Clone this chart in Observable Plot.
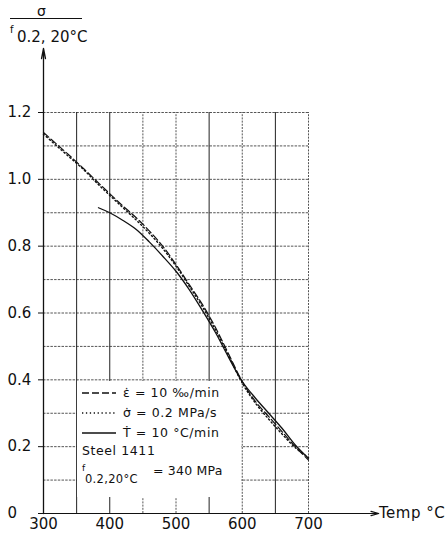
<!DOCTYPE html>
<html><head><meta charset="utf-8">
<script src="https://cdn.jsdelivr.net/npm/d3@7"></script>
<script src="https://cdn.jsdelivr.net/npm/@observablehq/plot@0.6"></script>
<style>
body{margin:0;background:#fff;}
#wrap{position:relative;width:448px;height:540px;font-family:"DejaVu Sans",sans-serif;color:#111;overflow:hidden;}
#wrap svg.plot{position:absolute;left:0;top:0;}
.abs{position:absolute;white-space:nowrap;line-height:16px;}
#legend{position:absolute;left:77px;top:381px;width:164px;height:116px;background:#fff;font-size:12.5px;letter-spacing:0.6px;}
</style></head><body><div id="wrap"></div>
<script>
// ---- data ----
const strainTemps  = [300,320,340,360,380,400,420,440,460,480,500,520,540,560,580,600,620,640,660,680,700];
const strainValues = [1.14,1.105,1.07,1.033,0.995,0.957,0.92,0.885,0.845,0.80,0.745,0.685,0.625,0.555,0.475,0.395,0.335,0.29,0.245,0.20,0.16];
const stressTemps  = [300,320,340,360,380,400,420,440,460,480,500,520,540,560,580,600,620,640,660,680,700];
const stressValues = [1.135,1.10,1.065,1.03,0.99,0.952,0.915,0.878,0.838,0.793,0.74,0.68,0.618,0.548,0.47,0.39,0.33,0.282,0.238,0.197,0.168];
const heatTemps    = [383,400,420,440,460,480,500,520,540,560,580,600,620,640,660,680,700];
const heatValues   = [0.915,0.90,0.877,0.85,0.812,0.77,0.725,0.67,0.607,0.54,0.465,0.395,0.345,0.30,0.255,0.205,0.165];

const xTicks = [300,400,500,600,700];
const yTicks = [0,0.2,0.4,0.6,0.8,1.0,1.2];
const hGrid = [0.1,0.2,0.3,0.4,0.5,0.6,0.7,0.8,0.9,1.0,1.1,1.2];
const vGridSolid = [350,400,550,650];
const vGridDotted = [450,500,600,700];
const xDomain = [300,700];
const yDomain = [0,1.2];
const yAxisTop = 1.392;   // arrow tip of vertical axis
const xAxisEnd = 806;     // arrow tip of horizontal axis

const legendItems = [
  {label:"ε̇ = 10 ‰/min", dash:"7,3"},
  {label:"σ̇ = 0.2 MPa/s", dash:"1.3,2.6"},
  {label:"Ṫ = 10 °C/min", dash:null}
];

const toRows = (xs, ys) => xs.map((x,i)=>({x, y: ys[i]}));
const strain = toRows(strainTemps, strainValues);
const stress = toRows(stressTemps, stressValues);
const heat = toRows(heatTemps, heatValues);

const ink = "#111";
const chart = Plot.plot({
  width: 448, height: 540,
  marginLeft: 43, marginRight: 140, marginTop: 112, marginBottom: 27,
  x: {domain: xDomain},
  y: {domain: yDomain},
  style: {fontFamily: "DejaVu Sans, sans-serif", fontSize: "15px", color: ink, background: "transparent", overflow: "visible"},
  marks: [
    Plot.ruleY(hGrid, {x1: xDomain[0], x2: xDomain[1], stroke: "#555", strokeWidth: 1, strokeDasharray: "2.5,1.2"}),
    Plot.ruleX(vGridSolid, {y1: yDomain[0], y2: yDomain[1], stroke: "#222", strokeWidth: 1}),
    Plot.ruleX(vGridDotted, {y1: yDomain[0], y2: yDomain[1], stroke: "#555", strokeWidth: 1, strokeDasharray: "2,1.2"}),
    Plot.arrow([0], {x1: xDomain[0], x2: xDomain[0], y1: yDomain[0], y2: yAxisTop, stroke: ink, strokeWidth: 1.3, headLength: 12, headAngle: 22}),
    Plot.arrow([0], {x1: xDomain[0], x2: xAxisEnd, y1: 0, y2: 0, stroke: ink, strokeWidth: 1.2, headLength: 10, headAngle: 30}),
    // tick marks only
    Plot.axisY(yTicks, {anchor: "left", tickSize: 5, tickFormat: () => "", stroke: ink, label: null}),
    // tick labels only, left-aligned
    Plot.axisY(yTicks, {anchor: "left", tickSize: 0, tickPadding: 8, textAnchor: "start", dx: -28, tickFormat: d => d === 0 ? "0" : d.toFixed(1), label: null}),
    Plot.axisX(xTicks, {anchor: "bottom", tickSize: 0, tickPadding: 5, tickFormat: d => String(d), label: null}),
    Plot.line(strain, {x: "x", y: "y", stroke: ink, strokeWidth: 1.2, strokeDasharray: "7,3", curve: "catmull-rom"}),
    Plot.line(stress, {x: "x", y: "y", stroke: ink, strokeWidth: 1.4, strokeDasharray: "1.3,2.6", curve: "catmull-rom"}),
    Plot.line(heat, {x: "x", y: "y", stroke: ink, strokeWidth: 1.3, curve: "catmull-rom"})
  ]
});
chart.classList.add("plot");
const wrap = document.getElementById("wrap");
wrap.appendChild(chart);

// title (y-axis label) above the axis
const title = document.createElement("div");
title.innerHTML = `
  <span class="abs" style="left:37px;top:3px;font-size:14px;">σ</span>
  <div style="position:absolute;left:10px;top:18px;width:72px;border-top:1px solid #111;"></div>
  <span class="abs" style="left:10px;top:22px;font-size:10px;">f</span>
  <span class="abs" style="left:17px;top:29px;font-size:15px;">0.2, 20°C</span>`;
wrap.appendChild(title);

// x-axis label
const xl = document.createElement("span");
xl.className = "abs";
xl.style.cssText = "left:379px;top:505px;font-size:15px;letter-spacing:0.5px;";
xl.textContent = "Temp °C";
wrap.appendChild(xl);

// legend box
const lg = document.createElement("div");
lg.id = "legend";
let html = "";
legendItems.forEach((it, i) => {
  const cy = 12 + i * 20;
  html += `<svg style="position:absolute;left:5px;top:${cy-3}px" width="34" height="6"><line x1="0" x2="34" y1="3" y2="3" stroke="#111" stroke-width="1.3" ${it.dash ? `stroke-dasharray="${it.dash}"` : ""}/></svg>`;
  html += `<span class="abs" style="left:46px;top:${cy-8}px;">${it.label}</span>`;
});
html += `<span class="abs" style="left:5px;top:62px;">Steel 1411</span>`;
html += `<span class="abs" style="left:5px;top:79px;font-size:9px;">f</span>`;
html += `<span class="abs" style="left:8px;top:90px;font-size:11.5px;letter-spacing:0.3px;">0.2,20°C</span>`;
html += `<span class="abs" style="left:76px;top:82px;letter-spacing:0.2px;">= 340 MPa</span>`;
lg.innerHTML = html;
wrap.appendChild(lg);
</script>
</body></html>
